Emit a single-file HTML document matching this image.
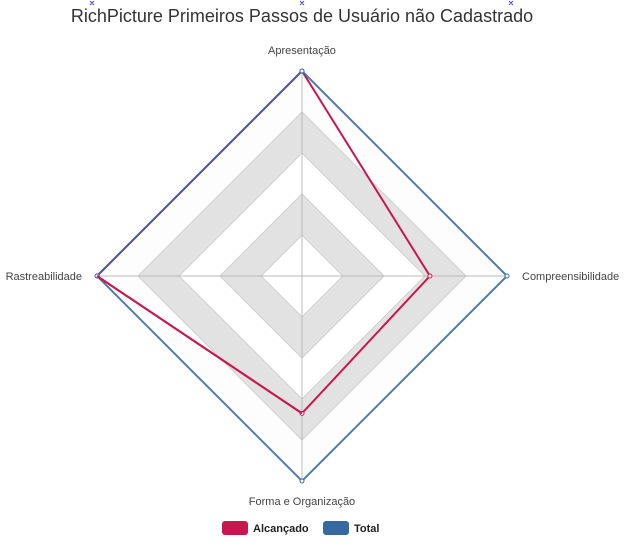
<!DOCTYPE html>
<html><head><meta charset="utf-8"><style>
body{margin:0;background:#fff;font-family:"Liberation Sans",sans-serif}
</style></head><body>
<svg id="c" width="625" height="547" xmlns="http://www.w3.org/2000/svg">
<text x="302" y="22" text-anchor="middle" font-size="18" fill="#333">RichPicture Primeiros Passos de Usuário não Cadastrado</text>
<g fill="none" stroke="#44f" stroke-width="1">
<path d="M90,1l4,4M94,1l-4,4M300,1l4,4M304,1l-4,4M509,1l4,4M513,1l-4,4"/>
</g>
<g id="grid"></g><g id="series"></g>
<g>
<g><rect x="222" y="521" width="26" height="14" rx="3" fill="#c8174e"/><text x="253" y="532" font-size="11" font-weight="bold" fill="#222">Alcançado</text></g>
<g><rect x="323" y="521" width="26" height="14" rx="3" fill="#356aa0"/><text x="354" y="532" font-size="11" font-weight="bold" fill="#222">Total</text></g>
</g>
</svg>
<script>
const categories=["Apresentação","Compreensibilidade","Forma e Organização","Rastreabilidade"];
const alcancado=[5,3.12,3.35,5];
const total=[5,5,5,5];
const maxV=5;
const cx=302,cy=276,R=205,NS="http://www.w3.org/2000/svg";
function pt(i,v){const a=-Math.PI/2+i*Math.PI/2;const r=v/maxV*R;return [cx+r*Math.cos(a),cy+r*Math.sin(a)];}
function mk(t,at,p){const e=document.createElementNS(NS,t);for(const k in at)e.setAttribute(k,at[k]);p.appendChild(e);return e;}
const g=document.getElementById('grid');
const fills=["#fdfdfd","#e2e2e2","#fff","#e2e2e2","#fff"];
for(let l=5;l>=1;l--){const pts=categories.map((c,i)=>pt(i,l).join(',')).join(' ');
const p=mk('polygon',{points:pts,fill:fills[5-l],stroke:"#d0d0d0","stroke-width":1},g);

}
const offs=[[0,-17],[15,4],[0,24],[-15,4]];
const anchors=["middle","start","middle","end"];
categories.forEach((c,i)=>{const [x,y]=pt(i,maxV);
const ln=mk('line',{x1:cx,y1:cy,x2:x,y2:y,stroke:"#bbb","stroke-width":1},g);


const t=mk('text',{x:x+offs[i][0],y:y+offs[i][1],"text-anchor":anchors[i],"font-size":11,fill:"#444"},g);t.textContent=c;

});
const s=document.getElementById('series');
[[alcancado,"#c8174e","alcancado",1],[total,"#356aa0","total",0.85]].forEach(([d,col,n,op])=>{
const pts=d.map((v,i)=>pt(i,v).join(',')).join(' ');
const p=mk('polygon',{points:pts,fill:"none",stroke:col,"stroke-width":2,"stroke-opacity":op},s);


d.forEach((v,i)=>{const [x,y]=pt(i,v);const c=mk('circle',{cx:x,cy:y,r:2,fill:"#fff",stroke:col,"stroke-width":1},s);

});});
const [lx,ly]=pt(3,alcancado[3]),[bx,by]=pt(2,alcancado[2]);
const e=mk('line',{x1:lx,y1:ly,x2:bx,y2:by,stroke:"#c8174e","stroke-width":2},s);


</script>
</body></html>
